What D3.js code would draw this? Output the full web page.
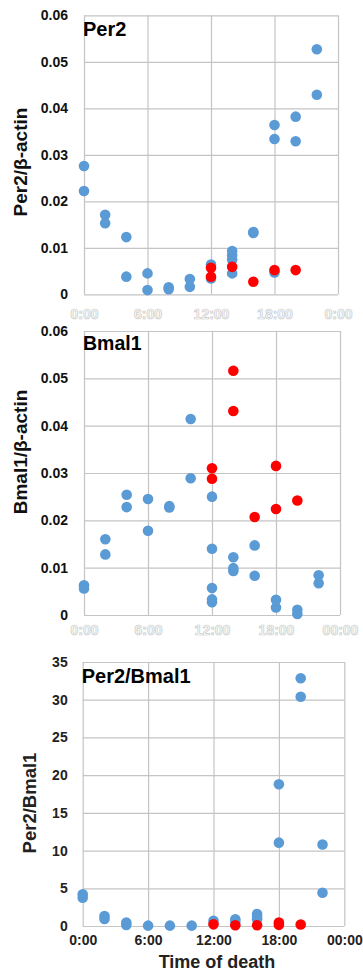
<!DOCTYPE html>
<html><head><meta charset="utf-8">
<script src="https://cdn.jsdelivr.net/npm/d3@7"></script>
<style>html,body{margin:0;padding:0;background:#fff;}svg{display:block;}</style>
</head><body>
<svg id="c" width="363" height="972"></svg>
<script>
// ---- data ----
const xTickHours = [0, 6, 12, 18, 24];
const xTickLabelsTop = ["0:00", "6:00", "12:00", "18:00", "0:00"];
const xTickLabelsMid = ["0:00", "6:00", "12:00", "18:00", "00:00"];
const xTickLabelsBottom = ["0:00", "6:00", "12:00", "18:00", "00:00"];

const per2Ticks = [0, 0.01, 0.02, 0.03, 0.04, 0.05, 0.06];
const bmal1Ticks = [0, 0.01, 0.02, 0.03, 0.04, 0.05, 0.06];
const ratioTicks = [0, 5, 10, 15, 20, 25, 30, 35];

// [hour, value]
const per2Blue = [
  [0,0.0276],[0,0.0222],[2,0.0171],[2,0.0153],[4,0.0123],[4,0.0038],
  [6,0.0045],[6,0.0009],[8,0.0015],[8,0.0011],[10,0.0033],[10,0.0016],
  [12,0.0064],[12,0.0034],[14,0.0093],[14,0.0084],[14,0.0075],[14,0.0045],
  [16,0.0134],[16,0.0132],[18,0.0364],[18,0.0334],[18,0.0047],
  [20,0.0382],[20,0.0329],[22,0.0527],[22,0.0429]
];
const per2Red = [
  [12,0.0057],[12,0.0038],[14,0.0059],[16,0.0027],[18,0.0052],[20,0.0052]
];

const bmal1Blue = [
  [0,0.0063],[0,0.0056],[2,0.0160],[2,0.0128],[4,0.0254],[4,0.0228],
  [6,0.0245],[6,0.0178],[8,0.0230],[8,0.0227],[10,0.0414],[10,0.0289],
  [12,0.0250],[12,0.0140],[12,0.0057],[12,0.0033],[12,0.0027],
  [14,0.0122],[14,0.0099],[14,0.0093],[16,0.0147],[16,0.0083],
  [18,0.0032],[18,0.0016],[20,0.0011],[20,0.0002],[22,0.0084],[22,0.0067]
];
const bmal1Red = [
  [12,0.0310],[12,0.0288],[14,0.0516],[14,0.0431],[16,0.0207],
  [18,0.0315],[18,0.0224],[20,0.0242]
];

const ratioBlue = [
  [0,4.2],[0,3.75],[2,1.33],[2,0.93],[4,0.45],[4,0.13],[6,0.05],[8,0.05],[10,0.05],
  [12,0.7],[14,0.9],[14,0.57],[16,1.6],[16,1.23],[16,0.9],
  [18,18.8],[18,11.05],[20,32.85],[20,30.4],[22,10.8],[22,4.4]
];
const ratioRed = [
  [12,0.22],[14,0.1],[16,0.1],[18,0.45],[18,0.15],[20,0.2]
];

// ---- drawing ----
const svg = d3.select("#c");
const BLUE = "#5B9BD5", RED = "#FF0000", GRID = "#c4c4c4";

function panel(opt) {
  const x = d3.scaleLinear().domain([0, 24]).range([opt.left, opt.right]);
  const y = d3.scaleLinear().domain([0, opt.yTicks[opt.yTicks.length-1]]).range([opt.bottom, opt.top]);
  const g = svg.append("g");

  // gridlines
  g.append("g").attr("transform", `translate(0,${opt.bottom})`)
    .call(d3.axisBottom(x).tickValues(xTickHours).tickSize(-(opt.bottom-opt.top)).tickFormat(""))
    .call(s => s.select(".domain").remove())
    .call(s => s.selectAll("line").attr("stroke", GRID).attr("stroke-width", 1.2));
  g.append("g").attr("transform", `translate(${opt.left},0)`)
    .call(d3.axisLeft(y).tickValues(opt.yTicks).tickSize(-(opt.right-opt.left)).tickFormat(""))
    .call(s => s.select(".domain").remove())
    .call(s => s.selectAll("line").attr("stroke", GRID).attr("stroke-width", 1.2));

  // y tick labels
  g.append("g").attr("transform", `translate(${opt.left},0)`)
    .call(d3.axisLeft(y).tickValues(opt.yTicks).tickSize(0).tickPadding(opt.yPad).tickFormat(opt.yFmt))
    .call(s => s.select(".domain").remove())
    .call(s => s.selectAll("text").attr("font-family", "Liberation Sans, Arial, sans-serif")
      .attr("font-size", 14).attr("font-weight", opt.tickWeight).attr("fill", opt.tickColor));

  // x tick labels
  const xa = g.append("g").attr("transform", `translate(0,${opt.xLabelY})`)
    .call(d3.axisBottom(x).tickValues(xTickHours).tickSize(0).tickPadding(0)
      .tickFormat((d, i) => opt.xLabels[i]))
    .call(s => s.select(".domain").remove());
  xa.selectAll("text").attr("font-family", "Liberation Sans, Arial, sans-serif")
    .attr("font-size", 14).attr("y", 0).attr("dy", 0).attr("font-weight", "bold");
  if (opt.ghost) {
    xa.selectAll("text").attr("fill", "#fff").attr("stroke", "#c8c8c8").attr("stroke-width", 0.7);
  } else {
    xa.selectAll("text").attr("fill", "#222");
  }

  // points
  g.append("g").selectAll("circle").data(opt.blue).join("circle")
    .attr("cx", d => x(d[0])).attr("cy", d => y(d[1])).attr("r", 5.3).attr("fill", BLUE);
  g.append("g").selectAll("circle").data(opt.red).join("circle")
    .attr("cx", d => x(d[0])).attr("cy", d => y(d[1])).attr("r", 5.3).attr("fill", RED);

  // title
  g.append("text").attr("x", opt.left - 1).attr("y", opt.titleY)
    .attr("font-family", "Liberation Sans, Arial, sans-serif").attr("font-size", opt.titleSize)
    .attr("font-weight", "bold").attr("fill", "#000").text(opt.title);

  // y axis title
  g.append("text").attr("transform", `translate(${opt.yTitleX},${opt.yTitleY}) rotate(-90)`)
    .attr("text-anchor", "middle")
    .attr("font-family", "Liberation Sans, Arial, sans-serif").attr("font-size", opt.yTitleSize)
    .attr("font-weight", "bold").attr("fill", opt.tickColor).text(opt.yTitle);
  return {x, y};
}

panel({
  left: 84, right: 338, top: 15.3, bottom: 294.3,
  yTicks: per2Ticks, yFmt: d => d === 0 ? "0" : d3.format(".2f")(d), yPad: 16,
  xLabels: xTickLabelsTop, xLabelY: 319, ghost: true,
  blue: per2Blue, red: per2Red,
  title: "Per2", titleY: 35.5, titleSize: 20,
  yTitle: "Per2/\u03B2-actin", yTitleX: 27, yTitleY: 162, yTitleSize: 19,
  tickWeight: "bold", tickColor: "#111"
});

panel({
  left: 84, right: 340, top: 331, bottom: 615,
  yTicks: bmal1Ticks, yFmt: d => d === 0 ? "0" : d3.format(".2f")(d), yPad: 16,
  xLabels: xTickLabelsMid, xLabelY: 635, ghost: true,
  blue: bmal1Blue, red: bmal1Red,
  title: "Bmal1", titleY: 350, titleSize: 19.5,
  yTitle: "Bmal1/\u03B2-actin", yTitleX: 27, yTitleY: 452, yTitleSize: 19,
  tickWeight: "bold", tickColor: "#111"
});

panel({
  left: 82.7, right: 344.3, top: 662, bottom: 926,
  yTicks: ratioTicks, yFmt: d3.format("d"), yPad: 15,
  xLabels: xTickLabelsBottom, xLabelY: 945, ghost: false,
  blue: ratioBlue, red: ratioRed,
  title: "Per2/Bmal1", titleY: 682.5, titleSize: 20,
  yTitle: "Per2/Bmal1", yTitleX: 36, yTitleY: 803, yTitleSize: 18.5,
  tickWeight: "bold", tickColor: "#222"
});

svg.append("text").attr("x", 217).attr("y", 968).attr("text-anchor", "middle")
  .attr("font-family", "Liberation Sans, Arial, sans-serif").attr("font-size", 18)
  .attr("font-weight", "bold").attr("fill", "#222").text("Time of death");
</script>
</body></html>
